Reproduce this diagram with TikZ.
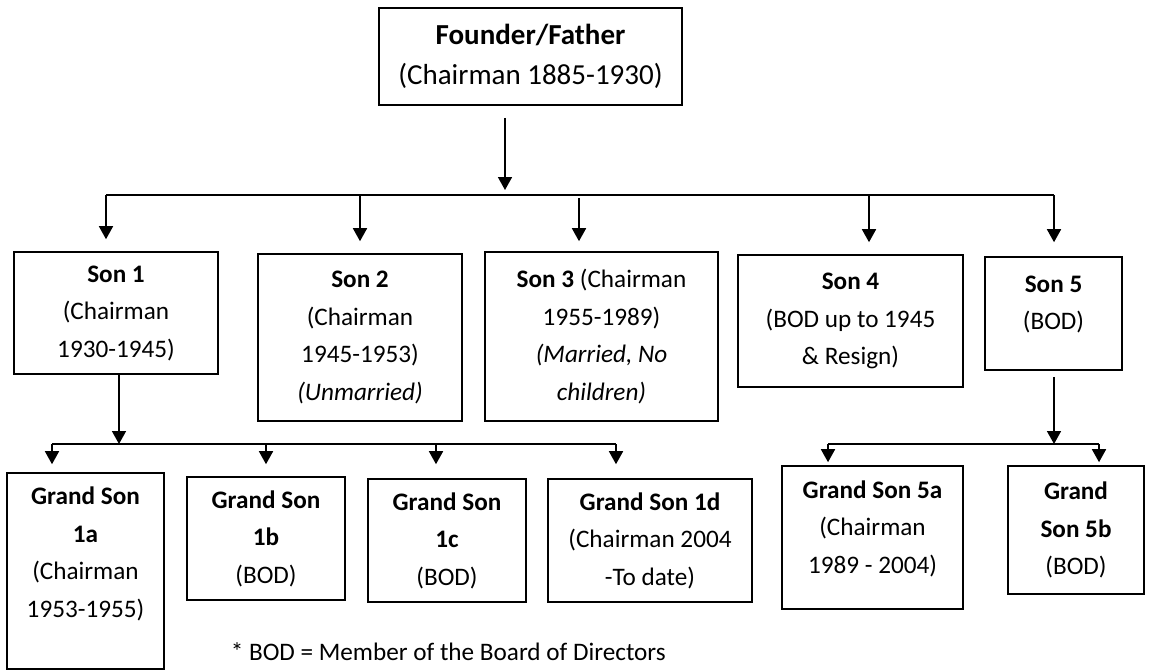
\documentclass[tikz,border=0pt]{standalone}
\usepackage{fontspec}
\setmainfont{Carlito}
\usetikzlibrary{arrows.meta}
\newcommand{\famfont}{\fontsize{12.6pt}{18.75pt}\selectfont}
\newcommand{\topfont}{\fontsize{14.5pt}{20pt}\selectfont}

\begin{document}
\begin{tikzpicture}[x=0.5pt, y=-0.5pt, >={Triangle[width=7pt,length=6.5pt]}, thick,
  fam/.style={draw, thick, align=center, inner sep=1pt, font=\famfont}]
\useasboundingbox (0,0) rectangle (1149,671);
% founder
\node[fam, font=\topfont, minimum width=151.5pt, minimum height=48.5pt] (founder) at (530.5,56.5) {\textbf{Founder/Father}\\(Chairman 1885-1930)};
% sons
\node[fam, minimum width=102pt, minimum height=61pt] (son1) at (116,313) {\textbf{Son 1}\\(Chairman\\1930-1945)};
\node[fam, minimum width=102pt, minimum height=83.5pt] (son2) at (360,337.5) {\textbf{Son 2}\\(Chairman\\1945-1953)\\\textit{(Unmarried)}};
\node[fam, minimum width=116.5pt, minimum height=84.5pt] (son3) at (601.5,336.5) {\textbf{Son 3} (Chairman\\1955-1989)\\\textit{(Married, No}\\\textit{children)}};
\node[fam, minimum width=112.5pt, minimum height=66pt] (son4) at (850.5,321) {\textbf{Son 4}\\(BOD up to 1945\\\& Resign)};
\node[fam, minimum width=68.5pt, minimum height=56.5pt] (son5) at (1053.5,313.5) {\textbf{Son 5}\\(BOD)\\[-8pt]\mbox{}};
% grand sons
\node[fam, minimum width=78.5pt, minimum height=98pt] (gs1a) at (85.5,571) {\textbf{Grand Son}\\\textbf{1a}\\(Chairman\\1953-1955)\\\mbox{}};
\node[fam, minimum width=79pt, minimum height=61.5pt] (gs1b) at (266,538.5) {\textbf{Grand Son}\\\textbf{1b}\\(BOD)};
\node[fam, minimum width=79pt, minimum height=61.5pt] (gs1c) at (447,540.5) {\textbf{Grand Son}\\\textbf{1c}\\(BOD)};
\node[fam, minimum width=102pt, minimum height=61.5pt] (gs1d) at (650,540.5) {\textbf{Grand Son 1d}\\(Chairman 2004\\-To date)};
\node[fam, minimum width=90.5pt, minimum height=71.5pt] (gs5a) at (872.5,537.5) {\textbf{Grand Son 5a}\\(Chairman\\1989 - 2004)\\[-8pt]\mbox{}};
\node[fam, minimum width=68pt, minimum height=64pt] (gs5b) at (1076,530) {\textbf{Grand}\\\textbf{Son 5b}\\(BOD)};
\node[font=\famfont, anchor=west, inner sep=0pt] (note) at (230,652) {* BOD = Member of the Board of Directors};

\coordinate (split) at (505,190);
\coordinate (barL) at (106,195);
\coordinate (barR) at (1054,195);
\coordinate (s3) at (579,198);
\coordinate (s4) at (869,195);
\coordinate (g1join) at (119,444);
\coordinate (g1L) at (52,444);
\coordinate (g1c) at (436,444);
\coordinate (g1R) at (616,444);
\coordinate (g5join) at (1054,444);
\coordinate (g5L) at (828,444);
\coordinate (g5R) at (1099,444);

\draw[->, shorten <=6pt] (founder.south -| split) -- (split);
\draw (barL) -- (barR);
\draw[->, shorten >=6pt] (barL) -- (barL |- son1.north);
\draw[->, shorten >=6pt] (son2.north |- barL) -- (son2.north);
\draw[->, shorten >=5pt] (s3) -- (s3 |- son3.north);
\draw[->, shorten >=6pt] (s4) -- (s4 |- son4.north);
\draw[->, shorten >=7pt] (barR) -- (barR |- son5.north);
% son 1 line
\draw[->] (son1.south -| g1join) -- (g1join);
\draw (g1L) -- (g1R);
\draw[->, shorten >=4pt] (g1L) -- (g1L |- gs1a.north);
\draw[->, shorten >=6pt] (gs1b.north |- g1L) -- (gs1b.north);
\draw[->, shorten >=7pt] (g1c) -- (g1c |- gs1c.north);
\draw[->, shorten >=7pt] (g1R) -- (g1R |- gs1d.north);
% son 5 line
\draw[->, shorten <=3pt] (son5.south -| g5join) -- (g5join);
\draw (g5L) -- (g5R);
\draw[->, shorten >=1.5pt] (g5L) -- (g5L |- gs5a.north);
\draw[->, shorten >=1.5pt] (g5R) -- (g5R |- gs5b.north);
\end{tikzpicture}
\end{document}
